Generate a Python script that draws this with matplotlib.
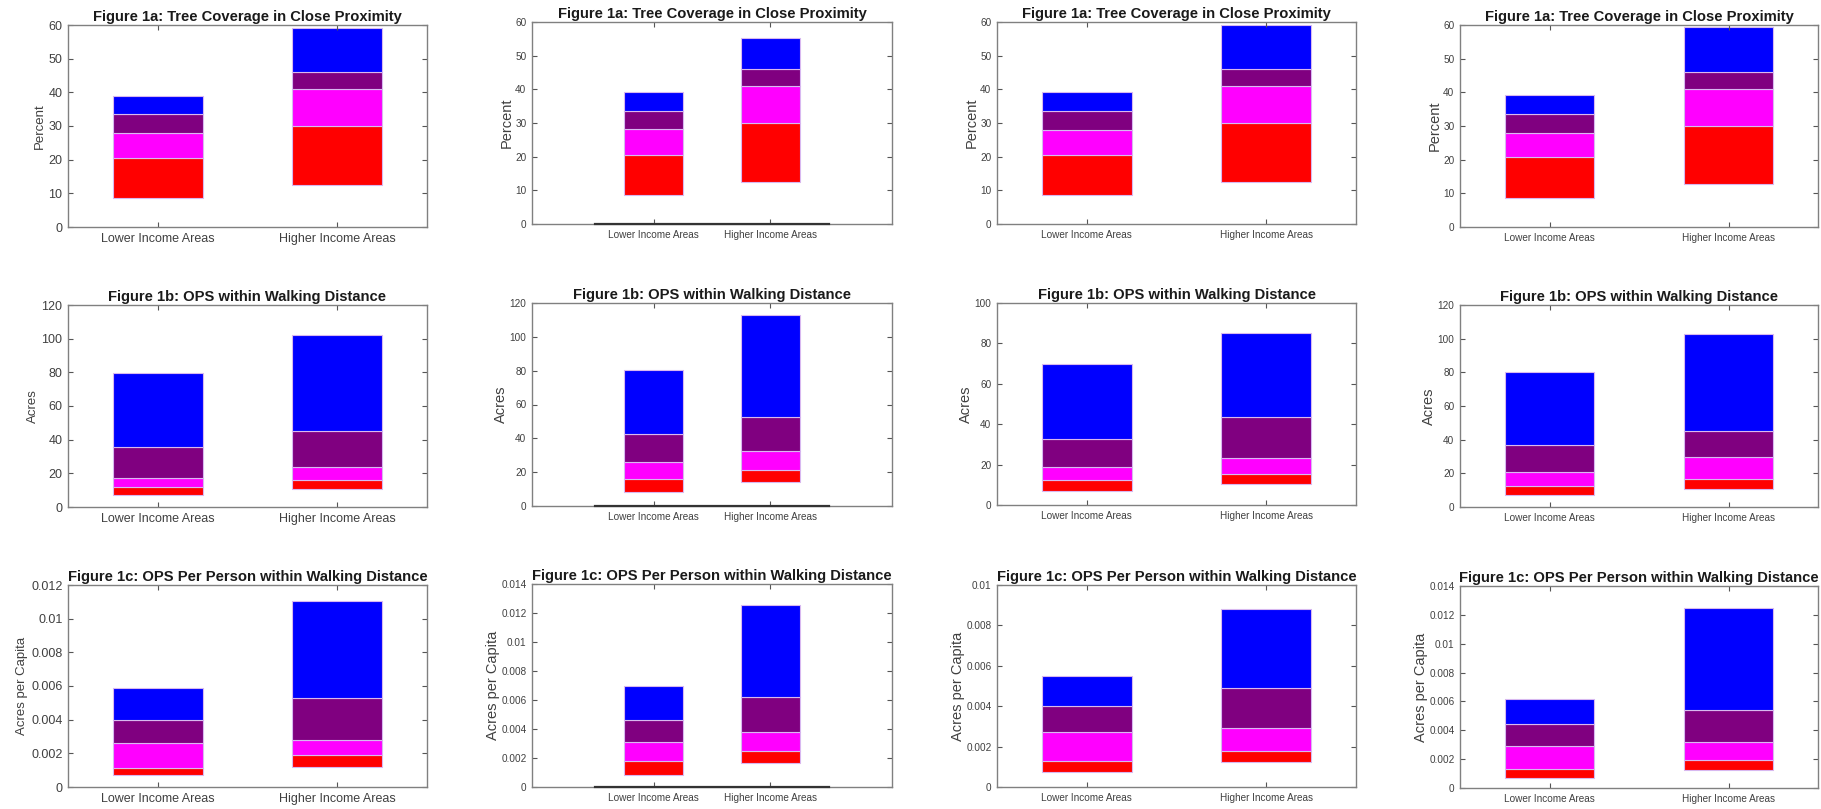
import numpy as np
import matplotlib
matplotlib.use("Agg")
import matplotlib.pyplot as plt
from matplotlib.ticker import FormatStrFormatter

plt.rcParams['font.family'] = ['Liberation Sans', 'DejaVu Sans']

categories = ['Lower Income Areas', 'Higher Income Areas']
seg_colors = ['#ff0000', '#ff00ff', '#800080', '#0000ff']

titles = ['Figure 1a: Tree Coverage in Close Proximity',
          'Figure 1b: OPS within Walking Distance',
          'Figure 1c: OPS Per Person within Walking Distance']
ylabels = ['Percent', 'Acres', 'Acres per Capita']

# segment boundaries (bottom, red, magenta, purple, blue top) per column, per category
tree_edges = [
    [[8.5, 20.6, 28.0, 33.5, 39.0], [12.6, 29.9, 41.0, 46.1, 59.1]],
    [[8.5, 20.6, 28.1, 33.5, 39.1], [12.5, 30.0, 41.0, 46.0, 55.3]],
    [[8.5, 20.6, 28.0, 33.5, 39.1], [12.5, 30.0, 41.0, 46.0, 59.1]],
    [[8.6, 20.8, 28.0, 33.5, 39.2], [12.7, 30.1, 41.1, 46.0, 59.3]],
]
ops_edges = [
    [[7.1, 12.1, 17.2, 35.4, 79.9], [10.5, 15.8, 23.9, 44.9, 102.4]],
    [[8.5, 16.2, 26.1, 42.7, 80.5], [14.0, 21.0, 32.4, 52.4, 112.7]],
    [[7.1, 12.2, 18.6, 32.8, 69.6], [10.2, 15.3, 23.3, 43.6, 85.3]],
    [[7.1, 12.7, 20.8, 36.8, 80.1], [10.5, 16.6, 29.9, 44.9, 102.8]],
]
percap_edges = [
    [[0.00072, 0.00115, 0.0026, 0.00397, 0.00588], [0.00121, 0.00189, 0.00278, 0.00527, 0.01107]],
    [[0.00083, 0.00182, 0.00313, 0.0046, 0.00697], [0.00163, 0.00248, 0.00379, 0.00623, 0.01255]],
    [[0.00074, 0.00129, 0.00272, 0.00403, 0.0055], [0.00125, 0.0018, 0.0029, 0.00492, 0.00881]],
    [[0.00072, 0.0013, 0.00289, 0.00442, 0.00618], [0.00123, 0.00192, 0.00322, 0.00542, 0.0125]],
]
all_edges = [tree_edges, ops_edges, percap_edges]

ymax = [[60, 60, 60, 60], [120, 120, 100, 120], [0.012, 0.014, 0.01, 0.014]]
ystep = [[10, 10, 10, 10], [20, 20, 20, 20], [0.002, 0.002, 0.002, 0.002]]

W, H = 1821, 809
fig = plt.figure(figsize=(W / 100, H / 100), dpi=100)

# axes boxes in pixels: (x0, x1) per column, (y0, y1) per row/column
col_x = [(68, 427), (532, 892), (997, 1356), (1460, 1818)]
row_y = [[(25, 227), (22, 224), (22, 224), (25, 227)],
         [(305, 507), (303, 506), (303, 505), (305, 507)],
         [(585, 787), (584, 787), (585, 787), (586, 788)]]

for r in range(3):
    for c in range(4):
        x0, x1 = col_x[c]
        y0, y1 = row_y[r][c]
        ax = fig.add_axes([x0 / W, 1 - y1 / H, (x1 - x0) / W, (y1 - y0) / H])
        edges = np.array(all_edges[r][c])
        xs = np.arange(1, len(categories) + 1)
        for k in range(4):
            ax.bar(xs, edges[:, k + 1] - edges[:, k], bottom=edges[:, k], width=0.5,
                   color=seg_colors[k], edgecolor='#d8b8f0', linewidth=0.8)
        if c == 1:
            ax.set_xlim(-0.04, 3.04)
            ax.plot([0.5, 2.5], [0, 0], color='#333333', lw=1.6, zorder=5, clip_on=False)
            tick_fs = 7.2
        else:
            ax.set_xlim(0.5, 2.5)
            tick_fs = 9 if c == 0 else 7.2
        ax.set_ylim(0, ymax[r][c])
        ax.set_yticks(np.arange(0, ymax[r][c] + ystep[r][c] / 2, ystep[r][c]))
        ax.yaxis.set_major_formatter(FormatStrFormatter('%g'))
        ax.set_xticks(xs)
        ax.set_xticklabels(categories)
        ax.tick_params(direction='in', top=True, right=True, length=3.5, width=0.8,
                       color='#555555', labelcolor='#404040', labelsize=tick_fs, pad=4)
        for s in ax.spines.values():
            s.set_color('#808080')
            s.set_linewidth(1.0)
        ax.set_title(titles[r], fontsize=10.6, fontweight='bold', color='#1a1a1a', pad=3)
        ax.set_ylabel(ylabels[r], fontsize=9.5 if c == 0 else 10.5, color='#404040',
                      labelpad=2 if c == 0 else 1)

fig.savefig('out.png', dpi=100, facecolor='white')
